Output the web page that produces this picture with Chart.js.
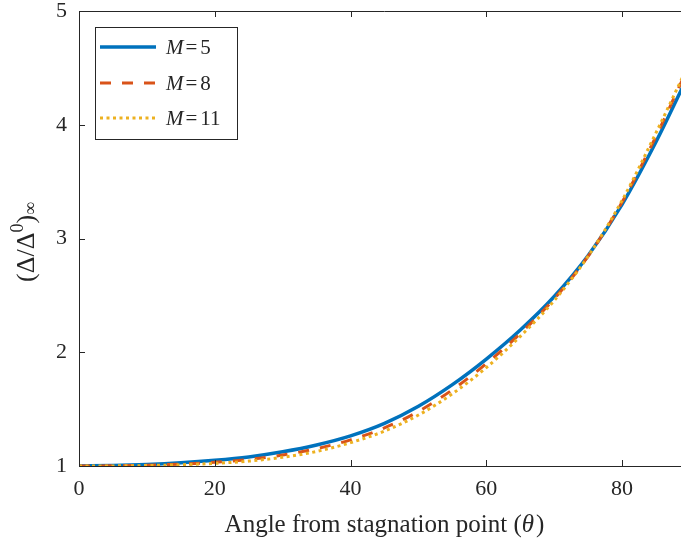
<!DOCTYPE html>
<html><head><meta charset="utf-8">
<script src="https://cdn.jsdelivr.net/npm/chart.js@4/dist/chart.umd.min.js"></script>
<style>
html,body{margin:0;padding:0;overflow:hidden;background:#fff;width:681px;height:540px}
#wrap{position:relative;width:700px;height:540px}
</style></head>
<body><div id="wrap"><canvas id="c" width="700" height="540"></canvas></div>
<script>
// ---- data ----
const angles   = [0, 5, 10, 15, 20, 25, 30, 35, 40, 45, 50, 55, 60, 65, 70, 75, 80, 85, 89];
const deltaM5  = [1.000, 1.004, 1.013, 1.028, 1.050, 1.080, 1.125, 1.185, 1.265, 1.375, 1.525, 1.715, 1.940, 2.195, 2.490, 2.850, 3.300, 3.850, 4.340];
const deltaM8  = [1.000, 1.002, 1.007, 1.017, 1.033, 1.058, 1.097, 1.152, 1.230, 1.335, 1.480, 1.670, 1.900, 2.165, 2.470, 2.845, 3.320, 3.900, 4.410];
const deltaM11 = [1.000, 1.001, 1.004, 1.011, 1.023, 1.043, 1.077, 1.128, 1.205, 1.307, 1.448, 1.635, 1.865, 2.140, 2.455, 2.845, 3.335, 3.930, 4.430];
const machValues = ['5', '8', '11'];
const xTickValues = [0, 20, 40, 60, 80];
const yTickValues = [1, 2, 3, 4, 5];
const xAxisTitle = 'Angle from stagnation point (';
const xAxisSymbol = 'θ';

const FONT = '"Liberation Serif", "Times New Roman", serif';
const INK = '#262626';
const colors = ['#0072BD', '#D95319', '#EDB120'];

function pts(ys){ return angles.map((a,i)=>({x:a, y:ys[i]})); }

const datasets = [
  {label:'M = 5',  data:pts(deltaM5),  borderColor:colors[0], borderWidth:3.5, borderDash:[], order:3},
  {label:'M = 8',  data:pts(deltaM8),  borderColor:colors[1], borderWidth:3,   borderDash:[11,11], order:2},
  {label:'M = 11', data:pts(deltaM11), borderColor:colors[2], borderWidth:3,   borderDash:[3,3.5], order:1}
].map(d=>Object.assign(d,{pointRadius:0, fill:false, cubicInterpolationMode:'monotone'}));

const decor = {
  id:'decor',
  afterDatasetsDraw(chart){
    const {ctx, chartArea:a, scales:{x, y}} = chart;
    ctx.save();
    ctx.strokeStyle = INK; ctx.lineWidth = 1;
    ctx.beginPath();
    ctx.moveTo(a.left, a.top+0.5); ctx.lineTo(a.right, a.top+0.5);
    ctx.moveTo(a.right-0.5, a.top); ctx.lineTo(a.right-0.5, a.bottom);
    const tl = 6;
    xTickValues.forEach(v=>{
      const px = Math.round(x.getPixelForValue(v))+0.5;
      ctx.moveTo(px, a.bottom); ctx.lineTo(px, a.bottom-tl);
      ctx.moveTo(px, a.top); ctx.lineTo(px, a.top+tl);
    });
    yTickValues.forEach(v=>{
      const py = Math.round(y.getPixelForValue(v))+0.5;
      ctx.moveTo(a.left, py); ctx.lineTo(a.left+tl, py);
      ctx.moveTo(a.right, py); ctx.lineTo(a.right-tl, py);
    });
    ctx.stroke();

    // legend
    const bx = a.left+16, by = a.top+16, bw = 142, bh = 112;
    ctx.fillStyle = '#fff';
    ctx.fillRect(bx, by, bw, bh);
    ctx.strokeStyle = INK; ctx.lineWidth = 1;
    ctx.strokeRect(bx+0.5, by+0.5, bw, bh);
    const rows = [by+20, by+56, by+91];
    chart.data.datasets.forEach((d,i)=>{
      const ly = rows[i];
      ctx.save();
      ctx.strokeStyle = d.borderColor; ctx.lineWidth = d.borderWidth;
      ctx.setLineDash(d.borderDash);
      ctx.beginPath(); ctx.moveTo(bx+5, ly); ctx.lineTo(bx+61, ly); ctx.stroke();
      ctx.restore();
      ctx.fillStyle = INK; ctx.textBaseline = 'alphabetic'; ctx.textAlign = 'left';
      let tx = bx+71;
      ctx.font = 'italic 21px '+FONT; ctx.fillText('M', tx, ly+7);
      tx += ctx.measureText('M').width + 2;
      ctx.font = '21px '+FONT; ctx.fillText('=', tx, ly+7);
      tx += ctx.measureText('=').width + 3;
      ctx.fillText(machValues[i], tx, ly+7);
    });
    ctx.restore();
  },
  afterDraw(chart){
    const {ctx, chartArea:a} = chart;
    ctx.save();
    ctx.fillStyle = INK; ctx.textBaseline = 'alphabetic'; ctx.textAlign = 'left';
    // x title
    const big = '25px '+FONT, bigI = 'italic 25px '+FONT;
    ctx.font = big; const w1 = ctx.measureText(xAxisTitle).width, w3 = ctx.measureText(')').width;
    ctx.font = bigI; const w2 = ctx.measureText(xAxisSymbol).width;
    let tx = (a.left+a.right)/2 - (w1+w2+w3+2)/2;
    const ty = 532;
    ctx.font = big; ctx.fillText(xAxisTitle, tx, ty); tx += w1;
    ctx.font = bigI; ctx.fillText(xAxisSymbol, tx, ty); tx += w2+2;
    ctx.font = big; ctx.fillText(')', tx, ty);
    // y title (rotated) : (Δ/Δ^0)_∞
    const parts = [
      {t:'(Δ/Δ', f:'26px '+FONT, dy:0},
      {t:'0', f:'18px '+FONT, dy:-11},
      {t:')', f:'26px '+FONT, dy:0},
      {t:'∞', f:'18px '+FONT, dy:2}
    ];
    let total = 0;
    parts.forEach(p=>{ctx.font=p.f; p.w=ctx.measureText(p.t).width; total+=p.w;});
    ctx.translate(34, 242);
    ctx.rotate(-Math.PI/2);
    let px = -total/2;
    parts.forEach(p=>{ctx.font=p.f; ctx.fillText(p.t, px, p.dy); px += p.w;});
    ctx.restore();
  }
};

new Chart(document.getElementById('c'), {
  type:'line',
  data:{datasets},
  options:{
    responsive:false, animation:false, devicePixelRatio:1,
    layout:{padding:{left:0, right:10, top:11, bottom:0}},
    plugins:{legend:{display:false}, tooltip:{enabled:false}},
    scales:{
      x:{type:'linear', min:0, max:90,
        afterBuildTicks:s=>{s.ticks = xTickValues.map(v=>({value:v}));},
        afterFit:s=>{s.height = 74; s.paddingLeft = 0; s.paddingRight = 0;},
        grid:{display:false, drawTicks:false},
        border:{display:true, color:INK, width:1},
        ticks:{color:INK, font:{family:FONT, size:22}, padding:10, maxRotation:0, autoSkip:false}
      },
      y:{type:'linear', min:1, max:5,
        afterBuildTicks:s=>{s.ticks = yTickValues.map(v=>({value:v}));},
        afterFit:s=>{s.width = 79; s.paddingTop = 0; s.paddingBottom = 0;},
        grid:{display:false, drawTicks:false},
        border:{display:true, color:INK, width:1},
        ticks:{color:INK, font:{family:FONT, size:22}, padding:12, autoSkip:false}
      }
    }
  },
  plugins:[decor]
});
</script>
</body></html>
